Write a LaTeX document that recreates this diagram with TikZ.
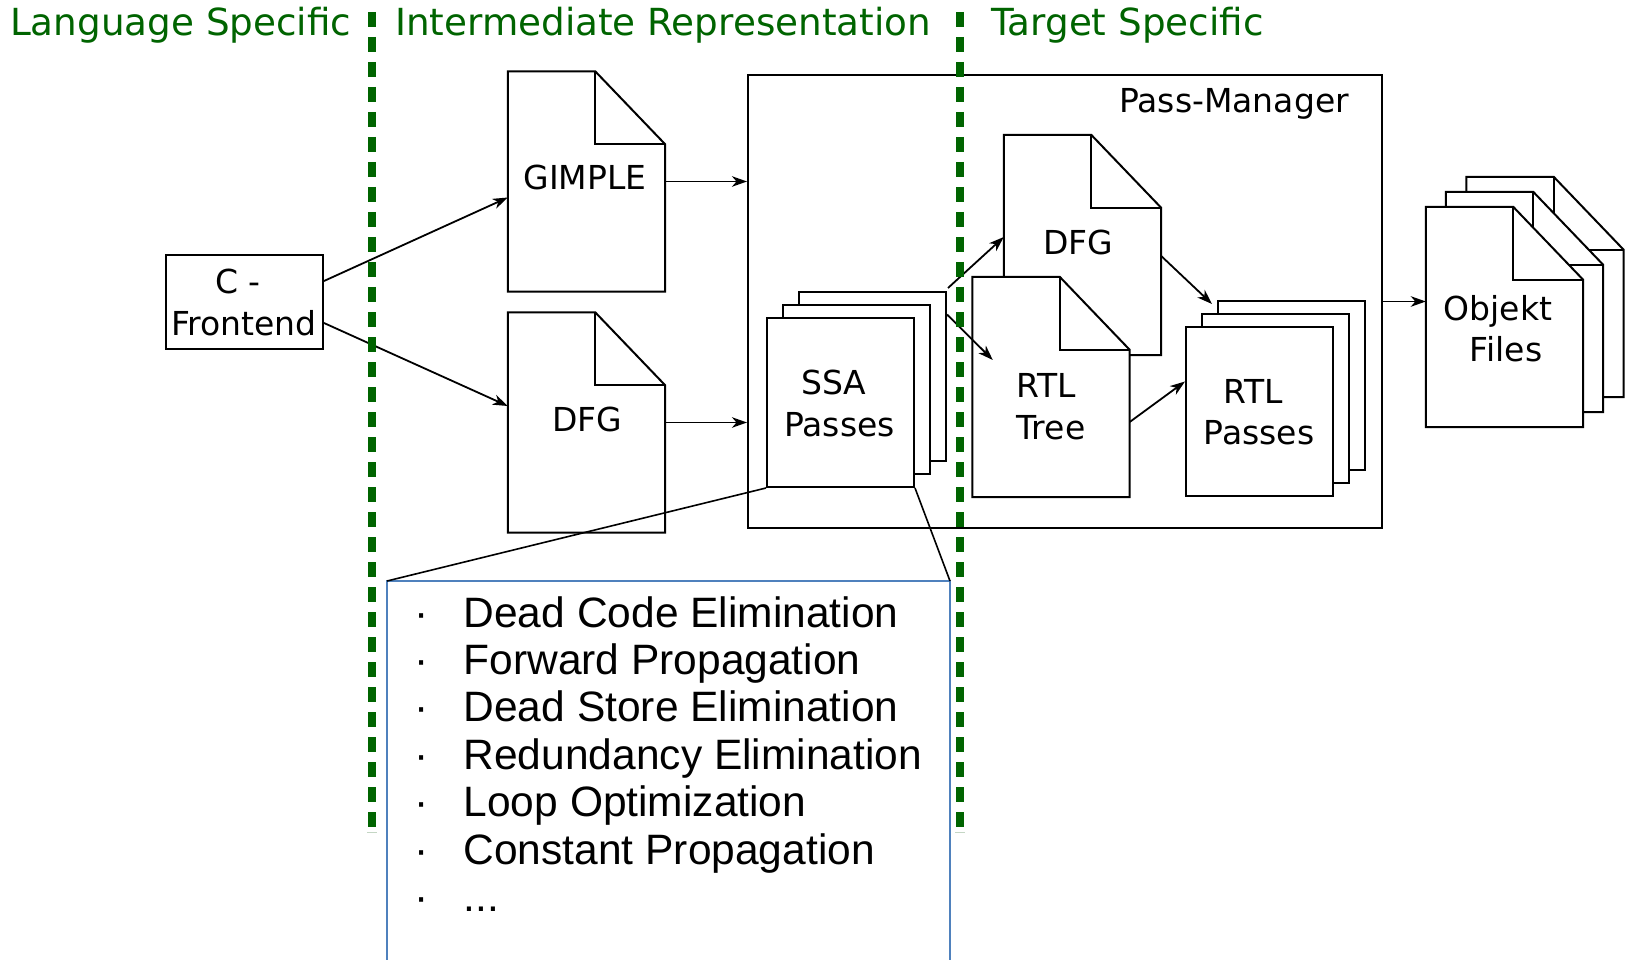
\documentclass[tikz,border=0pt]{standalone}
\usepackage{fontspec}
\setmainfont{DejaVu Sans}
\newfontfamily\listfont{Liberation Sans}
\usetikzlibrary{arrows.meta}
\definecolor{regiongreen}{RGB}{0,100,0}
\definecolor{listblue}{RGB}{79,129,189}
\definecolor{capgray}{RGB}{196,214,196}

% outline of a document sheet with a folded top-right corner
\newcommand\docoutline[1]{%
  \draw[outline] (#1.north west) -- ([xshift=-70pt]#1.north east)
    -- ([yshift=-73pt]#1.north east) -- (#1.south east) -- (#1.south west) -- cycle;
  \draw[line width=2pt, line join=miter] ([xshift=-70pt]#1.north east) |- ([yshift=-73pt]#1.north east);
}

\begin{document}
\begin{tikzpicture}[x=1pt,y=-1pt,
  outline/.style={draw=black, line width=2pt, fill=white, line join=miter},
  docnode/.style={rectangle, inner sep=0pt, minimum width=157pt, minimum height=220pt},
  passbox/.style={rectangle, outline, inner sep=0pt, minimum width=147pt, minimum height=169pt},
  lbl/.style={inner sep=0pt, anchor=base, font=\fontsize{33}{40}\selectfont},
  heading/.style={inner sep=0pt, anchor=base west, text=regiongreen, font=\fontsize{37.3}{44}\selectfont},
  flow/.style={draw=black, line width=1.8pt, -{Stealth[length=15pt,width=10.5pt,inset=4.5pt]}},
  callout/.style={draw=black, line width=1.6pt},
  listedge/.style={draw=listblue, line width=1.3pt},
  divider/.style={draw=regiongreen, line width=7.5pt, dash pattern=on 15pt off 10pt},
  item/.style={inner sep=0pt, anchor=base west, font=\listfont\fontsize{42.5}{47}\selectfont},
]
\fill[white] (0,0) rectangle (1626,960);
\useasboundingbox (0,0) rectangle (1626,960);

% region headings
\node[heading] (hLang) at (10,36) {Language Specific};
\node[heading] (hIR) at (395,36) {Intermediate Representation};
\node[heading] (hTarget) at (991,36) {Target Specific};

% pass manager frame
\node[rectangle, draw=black, line width=2pt, inner sep=0pt,
      minimum width=634pt, minimum height=453pt] (pm) at (1065,301.5) {};
\node[lbl, anchor=base east] (pmT) at (1349,113) {Pass-Manager};

% front end
\node[rectangle, outline, inner sep=0pt, minimum width=157pt, minimum height=94pt] (cfront) at (244.5,302) {};
\node[lbl] (cfrontA) at (238,294) {C -};
\node[lbl] (cfrontB) at (244,335) {Frontend};

% intermediate representations
\node[docnode] (gimple) at (586.5,181.5) {};
\docoutline{gimple}
\node[lbl] (gimpleT) at (585,190) {GIMPLE};

\node[docnode] (dfgA) at (586.5,422.5) {};
\docoutline{dfgA}
\node[lbl] (dfgAT) at (587,431) {DFG};

% SSA passes
\node[passbox] (ssa3) at (872.5,376.5) {};
\node[passbox] (ssa2) at (856.5,389.5) {};
\node[passbox] (ssa1) at (840.5,402.5) {};
\node[lbl] (ssaA) at (834,394) {SSA};
\node[lbl] (ssaB) at (839.5,436) {Passes};

% target side
\node[docnode] (dfgB) at (1082.5,245) {};
\docoutline{dfgB}
\node[lbl] (dfgBT) at (1078,255) {DFG};

\node[docnode] (rtl) at (1051,387) {};
\docoutline{rtl}
\node[lbl] (rtlA) at (1046,397) {RTL};
\node[lbl] (rtlB) at (1051,439) {Tree};

\node[passbox] (rtlp3) at (1291.5,385.5) {};
\node[passbox] (rtlp2) at (1275.5,398.5) {};
\node[passbox] (rtlp1) at (1259.5,411.5) {};
\node[lbl] (rtlpA) at (1253,403) {RTL};
\node[lbl] (rtlpB) at (1259,444) {Passes};

% object files
\node[docnode] (obj3) at (1545,287) {};
\docoutline{obj3}
\node[docnode] (obj2) at (1524.5,302) {};
\docoutline{obj2}
\node[docnode] (obj1) at (1504.5,317) {};
\docoutline{obj1}
\node[lbl] (objA) at (1498,320) {Objekt};
\node[lbl] (objB) at (1506,361) {Files};

% data flow
\draw[flow] ([yshift=21pt]cfront.east) -- ([yshift=-16pt]gimple.west);
\draw[flow] ([yshift=-21pt]cfront.east) -- ([yshift=16.5pt]dfgA.west);
\draw[flow] (gimple.east) -- (gimple.east -| pm.west);
\draw[flow] (dfgA.east) -- (dfgA.east -| pm.west);
\draw[flow] ([shift={(1pt,3pt)}]ssa3.north east) -- ([yshift=8pt]dfgB.west);
\draw[flow] ([yshift=62pt]ssa3.east) -- ([xshift=20.5pt,yshift=27pt]rtl.west);
\draw[flow] ([yshift=-11pt]dfgB.east) -- ([xshift=-5pt,yshift=-4pt]rtlp3.north west);
\draw[flow] ([yshift=-35pt]rtl.east) -- ([yshift=30pt]rtlp1.west);
\draw[flow] (pm.east) -- (pm.east -| obj1.west);

% list of SSA passes
\coordinate (listNW) at (387,581);
\coordinate (listNE) at (950,581);
\coordinate (listSW) at (387,963);
\coordinate (listSE) at (950,963);
\draw[listedge] (listSW) -- (listNW) -- (listNE) -- (listSE);
\draw[callout] (ssa1.south west) -- (listNW);
\draw[callout] (ssa1.south east) -- (listNE);

\node[item] (item1) at (414,627.0) {\makebox[49.5pt][l]{·}Dead Code Elimination};
\node[item] (item2) at (414,674.4) {\makebox[49.5pt][l]{·}Forward Propagation};
\node[item] (item3) at (414,721.8) {\makebox[49.5pt][l]{·}Dead Store Elimination};
\node[item] (item4) at (414,769.2) {\makebox[49.5pt][l]{·}Redundancy Elimination};
\node[item] (item5) at (414,816.6) {\makebox[49.5pt][l]{·}Loop Optimization};
\node[item] (item6) at (414,864.0) {\makebox[49.5pt][l]{·}Constant Propagation};
\node[item] (item7) at (414,911.4) {\makebox[49.5pt][l]{·}...};

% region dividers
\draw[divider] (372,12) -- (372,828);
\draw[divider] (960,12) -- (960,828);
\draw[capgray, line width=1pt] (367,832) -- (377,832);
\draw[capgray, line width=1pt] (955,832) -- (965,832);
\end{tikzpicture}
\end{document}
